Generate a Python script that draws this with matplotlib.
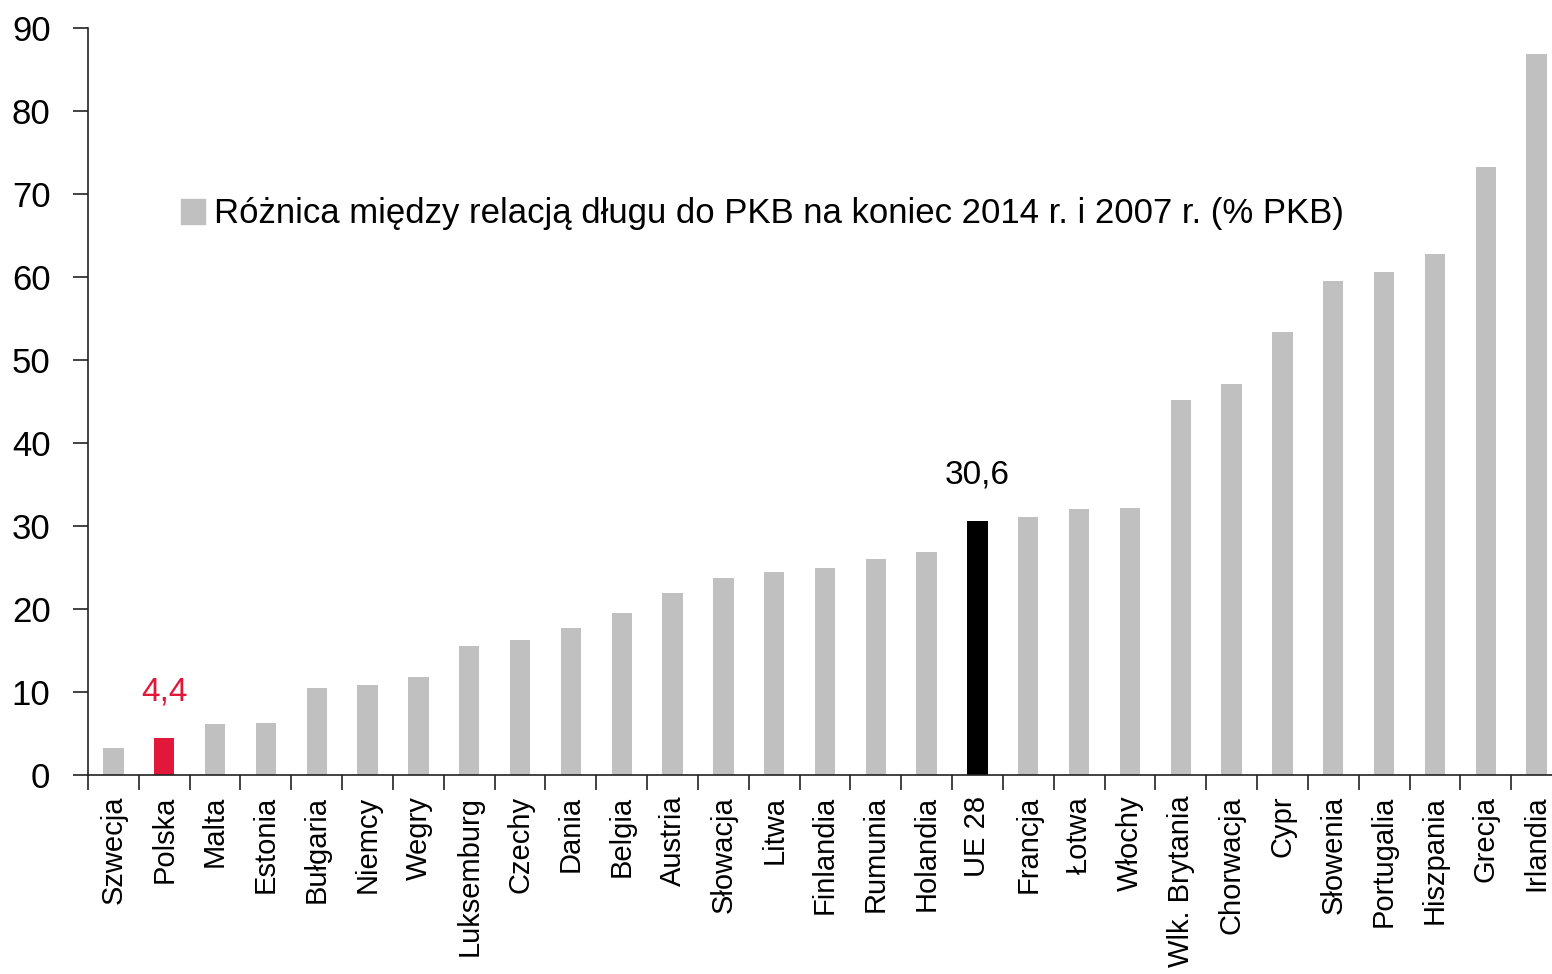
import matplotlib
matplotlib.use("Agg")
import matplotlib.pyplot as plt
from matplotlib.ticker import FixedLocator

plt.rcParams['font.family'] = ['Liberation Sans', 'DejaVu Sans']

countries = ["Szwecja", "Polska", "Malta", "Estonia", "Bułgaria", "Niemcy", "Wegry",
             "Luksemburg", "Czechy", "Dania", "Belgia", "Austria", "Słowacja", "Litwa",
             "Finlandia", "Rumunia", "Holandia", "UE 28", "Francja", "Łotwa", "Włochy",
             "Wlk. Brytania", "Chorwacja", "Cypr", "Słowenia", "Portugalia", "Hiszpania",
             "Grecja", "Irlandia"]
values = [3.2, 4.4, 6.1, 6.3, 10.5, 10.8, 11.8, 15.5, 16.3, 17.7, 19.5, 21.9, 23.7, 24.5,
          24.9, 26.0, 26.9, 30.6, 31.1, 32.0, 32.2, 45.2, 47.1, 53.4, 59.5, 60.6, 62.8,
          73.3, 86.9]
legend_label = "Różnica między relacją długu do PKB na koniec 2014 r. i 2007 r. (% PKB)"
y_ticks = [0, 10, 20, 30, 40, 50, 60, 70, 80, 90]

GRAY = "#C0C0C0"
RED = "#E2183A"
BLACK = "#000000"
colors = [RED if c == "Polska" else BLACK if c == "UE 28" else GRAY for c in countries]

W, H = 1552, 974
fig = plt.figure(figsize=(W / 100, H / 100), dpi=100)
left, right, bottom, top = 88, 1562, 775, 28
ax = fig.add_axes([left / W, 1 - bottom / H, (right - left) / W, (bottom - top) / H])

x = list(range(len(countries)))
bars = ax.bar(x, values, width=0.4, color=colors, label=legend_label)

ax.set_xlim(-0.5, len(countries) - 0.5)
ax.set_ylim(0, 90)
ax.set_yticks(y_ticks)
ax.set_yticklabels([str(t) for t in y_ticks], fontsize=25)
ax.tick_params(axis='y', direction='out', length=11, width=1.2, pad=16, color='#222222')

ax.set_xticks(x)
ax.set_xticklabels(countries, rotation=90, fontsize=21, family=['Liberation Sans Narrow', 'Liberation Sans'])
ax.tick_params(axis='x', which='major', length=0, pad=15)
ax.xaxis.set_minor_locator(FixedLocator([i - 0.5 for i in range(len(countries) + 1)]))
ax.tick_params(axis='x', which='minor', direction='out', length=11, width=1.2, color='#222222')

for s in ['top', 'right']:
    ax.spines[s].set_visible(False)
for s in ['left', 'bottom']:
    ax.spines[s].set_linewidth(1.2)
    ax.spines[s].set_color('#222222')

for i, (c, v) in enumerate(zip(countries, values)):
    if c == "Polska":
        ax.annotate(f"{v:.1f}".replace('.', ','), (i, v), xytext=(0, 22), textcoords='offset points',
                    ha='center', va='bottom', fontsize=24, color=RED)
    elif c == "UE 28":
        ax.annotate(f"{v:.1f}".replace('.', ','), (i, v), xytext=(0, 22), textcoords='offset points',
                    ha='center', va='bottom', fontsize=24, color=BLACK)

leg = fig.legend(handles=[bars[0]], labels=[legend_label], loc='center left',
                 bbox_to_anchor=(181 / W, 1 - 214 / H), frameon=False, fontsize=25,
                 handlelength=0.7, handleheight=0.7, handletextpad=0.25,
                 borderpad=0, borderaxespad=0)
leg.legend_handles[0].set_color(GRAY)

fig.savefig("out.png", dpi=100)
